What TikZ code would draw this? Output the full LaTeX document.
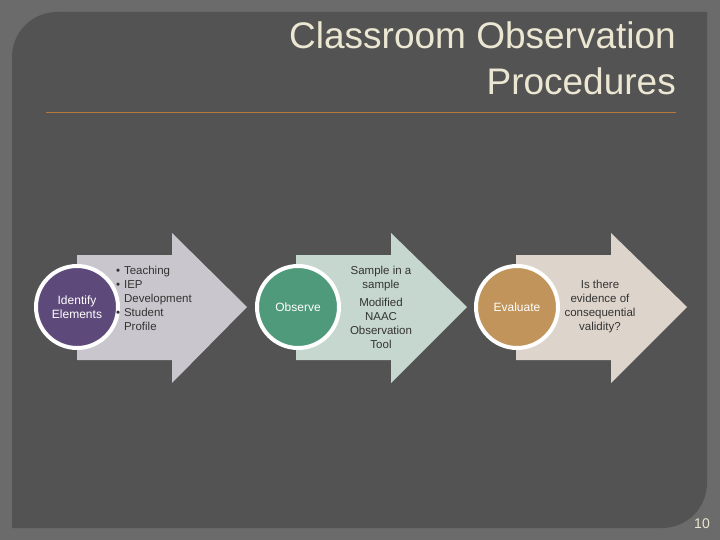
\documentclass[tikz,border=0pt]{standalone}
\usepackage{fontspec}
\setmainfont{Liberation Sans}
\definecolor{outerbg}{HTML}{6B6B6B}
\definecolor{panel}{HTML}{535353}
\definecolor{titlec}{HTML}{ECE7D2}
\definecolor{rulec}{HTML}{B87A3A}
\definecolor{arA}{HTML}{C9C7CD}
\definecolor{arB}{HTML}{C6D7D0}
\definecolor{arC}{HTML}{DDD4CC}
\definecolor{ciA}{HTML}{5E4A7A}
\definecolor{ciB}{HTML}{4F9A7A}
\definecolor{ciC}{HTML}{C0945A}
\definecolor{txt}{HTML}{333333}
\tikzset{
  circ/.style={circle,draw=white,line width=4pt,minimum size=82pt,inner sep=0pt,text=white,font=\fontsize{12}{14}\selectfont,align=center},
  atext/.style={text=txt,font=\fontsize{11.5}{14}\selectfont,align=center,inner sep=0pt},
}
\newcommand{\bigarrow}[3]{%
  \fill[#3] (#1,255) -- (#1+95,255) -- (#1+95,233) -- (#2,307) -- (#1+95,383) -- (#1+95,360) -- (#1,360) -- cycle;}
\begin{document}
\begin{tikzpicture}[x=1pt,y=-1pt]
\fill[outerbg] (0,0) rectangle (720,540);
\useasboundingbox (0,0) rectangle (720,540);
\fill[panel] (12,528) [rounded corners=45pt] -- (12,12) [sharp corners] -- (707,12) [rounded corners=45pt] -- (707,528) [sharp corners] -- cycle;
\node[anchor=east,text=titlec,font=\fontsize{37}{46}\selectfont,align=right,inner sep=0pt] (title) at (676,58) {Classroom Observation\\Procedures};
\coordinate (r1) at (46,112);
\coordinate (r2) at (676,112);
\draw[rulec,line width=0.8pt] (r1) -- (r2);
\bigarrow{77}{247}{arA}
\bigarrow{296}{467}{arB}
\bigarrow{516}{687}{arC}
\node[circ,fill=ciA] (c1) at (77,307) {Identify\\Elements};
\node[circ,fill=ciB] (c2) at (298,307) {Observe};
\node[circ,fill=ciC] (c3) at (517,307) {Evaluate};
\node[atext,align=left,anchor=north west] (t1) at (116,264) {\begin{tabular}{@{}l@{\,\,}l@{}}•&Teaching\\ •&IEP\\ &Development\\ •&Student\\ &Profile\end{tabular}};
\node[atext] (t2) at (381,307) {Sample in a\\sample\\[4pt]Modified\\NAAC\\Observation\\Tool};
\node[atext] (t3) at (600,307) {Is there\\evidence of\\consequential\\validity?};
\node[text=titlec,font=\fontsize{14}{16}\selectfont,anchor=east,inner sep=0pt] (num) at (710,524) {10};
\end{tikzpicture}
\end{document}
